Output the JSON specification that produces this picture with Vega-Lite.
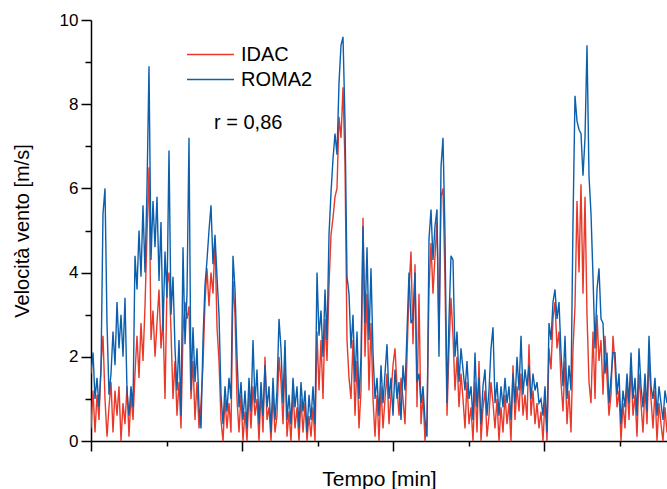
{
  "$schema": "https://vega.github.io/schema/vega-lite/v6.json",
  "width": 576,
  "height": 421,
  "autosize": {"type": "none"},
  "padding": {"left": 91, "top": 20, "right": 0, "bottom": 48},
  "background": "white",
  "config": {"view": {"stroke": null}, "font": "Liberation Sans"},
  "data": {"values": [
    {"t":0,"IDAC":0.3,"ROMA2":1.6},{"t":2,"IDAC":1.2,"ROMA2":2.1},{"t":4,"IDAC":0.2,"ROMA2":1.0},{"t":6,"IDAC":1.1,"ROMA2":1.5},{"t":8,"IDAC":0.5,"ROMA2":0.8},
    {"t":10,"IDAC":1.8,"ROMA2":1.7},{"t":12,"IDAC":2.5,"ROMA2":5.4},{"t":14,"IDAC":1.0,"ROMA2":6.0},{"t":16,"IDAC":0.1,"ROMA2":2.8},{"t":18,"IDAC":0.8,"ROMA2":1.1},
    {"t":20,"IDAC":1.4,"ROMA2":1.6},{"t":22,"IDAC":0.2,"ROMA2":2.6},{"t":24,"IDAC":1.2,"ROMA2":1.8},{"t":26,"IDAC":0.6,"ROMA2":3.3},{"t":28,"IDAC":1.3,"ROMA2":2.2},
    {"t":30,"IDAC":0.0,"ROMA2":3.0},{"t":32,"IDAC":0.9,"ROMA2":2.0},{"t":34,"IDAC":0.4,"ROMA2":3.4},{"t":36,"IDAC":1.3,"ROMA2":1.2},{"t":38,"IDAC":0.1,"ROMA2":0.6},
    {"t":40,"IDAC":1.1,"ROMA2":1.3},{"t":42,"IDAC":0.5,"ROMA2":0.8},{"t":44,"IDAC":1.6,"ROMA2":4.4},{"t":46,"IDAC":2.5,"ROMA2":3.6},{"t":48,"IDAC":1.5,"ROMA2":5.0},
    {"t":50,"IDAC":2.8,"ROMA2":3.9},{"t":52,"IDAC":1.9,"ROMA2":5.6},{"t":54,"IDAC":3.2,"ROMA2":4.0},{"t":56,"IDAC":4.9,"ROMA2":6.0},{"t":58,"IDAC":6.5,"ROMA2":8.9},
    {"t":60,"IDAC":2.4,"ROMA2":4.3},{"t":62,"IDAC":3.1,"ROMA2":5.7},{"t":64,"IDAC":2.0,"ROMA2":4.6},{"t":66,"IDAC":2.8,"ROMA2":5.8},{"t":68,"IDAC":3.6,"ROMA2":3.8},
    {"t":70,"IDAC":2.2,"ROMA2":5.2},{"t":72,"IDAC":2.9,"ROMA2":2.6},{"t":74,"IDAC":1.0,"ROMA2":4.5},{"t":76,"IDAC":3.7,"ROMA2":3.4},{"t":78,"IDAC":4.0,"ROMA2":6.9},
    {"t":80,"IDAC":2.6,"ROMA2":3.0},{"t":82,"IDAC":1.0,"ROMA2":3.9},{"t":84,"IDAC":1.9,"ROMA2":2.2},{"t":86,"IDAC":0.6,"ROMA2":1.2},{"t":88,"IDAC":1.4,"ROMA2":2.4},
    {"t":90,"IDAC":0.3,"ROMA2":0.6},{"t":92,"IDAC":2.6,"ROMA2":4.6},{"t":94,"IDAC":3.3,"ROMA2":2.3},{"t":96,"IDAC":2.9,"ROMA2":3.5},{"t":98,"IDAC":3.2,"ROMA2":7.2},
    {"t":100,"IDAC":1.0,"ROMA2":1.2},{"t":102,"IDAC":1.9,"ROMA2":2.7},{"t":104,"IDAC":0.5,"ROMA2":1.4},{"t":106,"IDAC":1.4,"ROMA2":2.2},{"t":108,"IDAC":0.3,"ROMA2":0.8},
    {"t":110,"IDAC":0.9,"ROMA2":0.3},{"t":112,"IDAC":1.8,"ROMA2":2.4},{"t":114,"IDAC":3.3,"ROMA2":3.7},{"t":116,"IDAC":4.1,"ROMA2":4.3},{"t":118,"IDAC":3.2,"ROMA2":5.0},
    {"t":120,"IDAC":4.0,"ROMA2":5.6},{"t":122,"IDAC":3.5,"ROMA2":4.2},{"t":124,"IDAC":4.8,"ROMA2":4.9},{"t":126,"IDAC":2.7,"ROMA2":3.9},{"t":128,"IDAC":1.9,"ROMA2":3.0},
    {"t":130,"IDAC":0.5,"ROMA2":1.1},{"t":132,"IDAC":0.0,"ROMA2":0.4},{"t":134,"IDAC":1.0,"ROMA2":1.3},{"t":136,"IDAC":0.3,"ROMA2":0.7},{"t":138,"IDAC":0.9,"ROMA2":1.5},
    {"t":140,"IDAC":0.2,"ROMA2":1.0},{"t":142,"IDAC":3.8,"ROMA2":4.4},{"t":144,"IDAC":3.0,"ROMA2":3.6},{"t":146,"IDAC":1.0,"ROMA2":2.0},{"t":148,"IDAC":0.2,"ROMA2":0.8},
    {"t":150,"IDAC":1.1,"ROMA2":1.4},{"t":152,"IDAC":0.0,"ROMA2":0.5},{"t":154,"IDAC":0.7,"ROMA2":1.2},{"t":156,"IDAC":0.0,"ROMA2":0.3},{"t":158,"IDAC":1.2,"ROMA2":1.5},
    {"t":160,"IDAC":0.3,"ROMA2":0.7},{"t":162,"IDAC":1.3,"ROMA2":2.4},{"t":164,"IDAC":0.6,"ROMA2":0.9},{"t":166,"IDAC":1.0,"ROMA2":1.7},{"t":168,"IDAC":0.0,"ROMA2":0.4},
    {"t":170,"IDAC":1.2,"ROMA2":1.4},{"t":172,"IDAC":0.2,"ROMA2":0.6},{"t":174,"IDAC":2.0,"ROMA2":1.8},{"t":176,"IDAC":0.5,"ROMA2":0.8},{"t":178,"IDAC":0.8,"ROMA2":1.3},
    {"t":180,"IDAC":0.0,"ROMA2":0.2},{"t":182,"IDAC":1.1,"ROMA2":1.5},{"t":184,"IDAC":0.2,"ROMA2":0.5},{"t":186,"IDAC":0.6,"ROMA2":1.2},{"t":188,"IDAC":2.0,"ROMA2":2.9},
    {"t":190,"IDAC":1.4,"ROMA2":2.2},{"t":192,"IDAC":0.4,"ROMA2":0.9},{"t":194,"IDAC":1.9,"ROMA2":2.4},{"t":196,"IDAC":0.1,"ROMA2":0.5},{"t":198,"IDAC":0.7,"ROMA2":1.1},
    {"t":200,"IDAC":0.0,"ROMA2":0.4},{"t":202,"IDAC":1.2,"ROMA2":1.5},{"t":204,"IDAC":0.3,"ROMA2":0.8},{"t":206,"IDAC":0.8,"ROMA2":1.3},{"t":208,"IDAC":0.0,"ROMA2":0.3},
    {"t":210,"IDAC":1.0,"ROMA2":1.4},{"t":212,"IDAC":0.2,"ROMA2":0.7},{"t":214,"IDAC":0.9,"ROMA2":1.2},{"t":216,"IDAC":0.0,"ROMA2":0.2},{"t":218,"IDAC":0.6,"ROMA2":1.1},
    {"t":220,"IDAC":0.1,"ROMA2":0.5},{"t":222,"IDAC":0.8,"ROMA2":1.3},{"t":224,"IDAC":0.0,"ROMA2":0.4},{"t":226,"IDAC":2.6,"ROMA2":4.0},{"t":228,"IDAC":1.2,"ROMA2":2.5},
    {"t":230,"IDAC":2.4,"ROMA2":3.1},{"t":232,"IDAC":1.0,"ROMA2":2.0},{"t":234,"IDAC":2.9,"ROMA2":3.6},{"t":236,"IDAC":1.9,"ROMA2":2.4},{"t":238,"IDAC":3.7,"ROMA2":4.9},
    {"t":240,"IDAC":4.9,"ROMA2":5.9},{"t":242,"IDAC":5.3,"ROMA2":6.7},{"t":244,"IDAC":5.8,"ROMA2":7.3},{"t":246,"IDAC":6.0,"ROMA2":6.8},{"t":248,"IDAC":7.7,"ROMA2":8.5},
    {"t":250,"IDAC":7.2,"ROMA2":9.4},{"t":252,"IDAC":8.4,"ROMA2":9.6},{"t":254,"IDAC":6.6,"ROMA2":7.6},{"t":256,"IDAC":2.4,"ROMA2":3.9},{"t":258,"IDAC":1.5,"ROMA2":3.5},
    {"t":260,"IDAC":1.0,"ROMA2":2.2},{"t":262,"IDAC":2.4,"ROMA2":3.0},{"t":264,"IDAC":0.6,"ROMA2":1.4},{"t":266,"IDAC":1.9,"ROMA2":2.6},{"t":268,"IDAC":0.3,"ROMA2":1.0},
    {"t":270,"IDAC":1.2,"ROMA2":2.0},{"t":272,"IDAC":5.3,"ROMA2":5.1},{"t":274,"IDAC":2.0,"ROMA2":2.8},{"t":276,"IDAC":3.5,"ROMA2":4.6},{"t":278,"IDAC":1.2,"ROMA2":2.4},
    {"t":280,"IDAC":2.8,"ROMA2":4.1},{"t":282,"IDAC":1.0,"ROMA2":2.1},{"t":284,"IDAC":0.1,"ROMA2":1.0},{"t":286,"IDAC":1.1,"ROMA2":1.5},{"t":288,"IDAC":0.0,"ROMA2":0.6},
    {"t":290,"IDAC":1.3,"ROMA2":1.8},{"t":292,"IDAC":0.3,"ROMA2":0.9},{"t":294,"IDAC":1.0,"ROMA2":1.6},{"t":296,"IDAC":1.6,"ROMA2":2.3},{"t":298,"IDAC":0.4,"ROMA2":1.0},
    {"t":300,"IDAC":1.1,"ROMA2":1.5},{"t":302,"IDAC":1.8,"ROMA2":0.6},{"t":304,"IDAC":2.2,"ROMA2":1.7},{"t":306,"IDAC":1.3,"ROMA2":1.0},{"t":308,"IDAC":0.6,"ROMA2":1.4},
    {"t":310,"IDAC":1.5,"ROMA2":0.5},{"t":312,"IDAC":1.0,"ROMA2":1.8},{"t":314,"IDAC":0.4,"ROMA2":1.2},{"t":316,"IDAC":2.0,"ROMA2":2.6},{"t":318,"IDAC":3.6,"ROMA2":4.0},
    {"t":320,"IDAC":4.5,"ROMA2":2.8},{"t":322,"IDAC":2.3,"ROMA2":2.9},{"t":324,"IDAC":4.2,"ROMA2":4.0},{"t":326,"IDAC":0.8,"ROMA2":1.4},{"t":328,"IDAC":3.5,"ROMA2":1.6},
    {"t":330,"IDAC":0.4,"ROMA2":0.9},{"t":332,"IDAC":1.1,"ROMA2":1.3},{"t":334,"IDAC":0.0,"ROMA2":0.5},{"t":336,"IDAC":0.5,"ROMA2":0.1},{"t":338,"IDAC":3.6,"ROMA2":4.8},
    {"t":340,"IDAC":4.7,"ROMA2":5.5},{"t":342,"IDAC":3.5,"ROMA2":4.3},{"t":344,"IDAC":4.4,"ROMA2":5.1},{"t":346,"IDAC":5.2,"ROMA2":5.5},{"t":348,"IDAC":2.4,"ROMA2":2.0},
    {"t":350,"IDAC":5.8,"ROMA2":6.5},{"t":352,"IDAC":6.0,"ROMA2":7.2},{"t":354,"IDAC":3.8,"ROMA2":4.9},{"t":356,"IDAC":0.6,"ROMA2":0.9},{"t":358,"IDAC":2.2,"ROMA2":2.9},
    {"t":360,"IDAC":3.4,"ROMA2":4.4},{"t":362,"IDAC":2.5,"ROMA2":4.3},{"t":364,"IDAC":1.2,"ROMA2":2.0},{"t":366,"IDAC":2.0,"ROMA2":2.6},{"t":368,"IDAC":0.8,"ROMA2":1.4},
    {"t":370,"IDAC":1.6,"ROMA2":2.2},{"t":372,"IDAC":1.0,"ROMA2":1.7},{"t":374,"IDAC":0.3,"ROMA2":1.2},{"t":376,"IDAC":1.4,"ROMA2":1.9},{"t":378,"IDAC":0.4,"ROMA2":1.0},
    {"t":380,"IDAC":0.8,"ROMA2":1.3},{"t":382,"IDAC":0.0,"ROMA2":0.5},{"t":384,"IDAC":1.4,"ROMA2":2.1},{"t":386,"IDAC":0.2,"ROMA2":0.8},{"t":388,"IDAC":1.9,"ROMA2":1.5},
    {"t":390,"IDAC":0.0,"ROMA2":0.4},{"t":392,"IDAC":0.8,"ROMA2":1.3},{"t":394,"IDAC":1.2,"ROMA2":1.7},{"t":396,"IDAC":0.1,"ROMA2":0.6},{"t":398,"IDAC":0.6,"ROMA2":1.2},
    {"t":400,"IDAC":1.4,"ROMA2":2.2},{"t":402,"IDAC":0.9,"ROMA2":2.7},{"t":404,"IDAC":0.3,"ROMA2":0.9},{"t":406,"IDAC":1.0,"ROMA2":1.4},{"t":408,"IDAC":0.0,"ROMA2":0.6},
    {"t":410,"IDAC":0.8,"ROMA2":1.3},{"t":412,"IDAC":0.2,"ROMA2":0.8},{"t":414,"IDAC":1.1,"ROMA2":1.5},{"t":416,"IDAC":0.4,"ROMA2":0.9},{"t":418,"IDAC":0.9,"ROMA2":1.3},
    {"t":420,"IDAC":0.0,"ROMA2":0.5},{"t":422,"IDAC":1.8,"ROMA2":1.6},{"t":424,"IDAC":0.5,"ROMA2":0.9},{"t":426,"IDAC":1.3,"ROMA2":2.0},{"t":428,"IDAC":0.7,"ROMA2":1.2},
    {"t":430,"IDAC":1.6,"ROMA2":2.5},{"t":432,"IDAC":0.6,"ROMA2":1.1},{"t":434,"IDAC":1.1,"ROMA2":1.7},{"t":436,"IDAC":0.5,"ROMA2":1.3},{"t":438,"IDAC":2.3,"ROMA2":1.8},
    {"t":440,"IDAC":0.6,"ROMA2":1.0},{"t":442,"IDAC":1.2,"ROMA2":1.6},{"t":444,"IDAC":0.4,"ROMA2":1.2},{"t":446,"IDAC":0.9,"ROMA2":1.4},{"t":448,"IDAC":0.3,"ROMA2":0.9},
    {"t":450,"IDAC":0.7,"ROMA2":1.0},{"t":452,"IDAC":0.0,"ROMA2":0.6},{"t":454,"IDAC":1.0,"ROMA2":1.3},{"t":456,"IDAC":0.0,"ROMA2":0.2},{"t":458,"IDAC":2.2,"ROMA2":2.8},
    {"t":460,"IDAC":1.7,"ROMA2":2.4},{"t":462,"IDAC":2.9,"ROMA2":3.3},{"t":464,"IDAC":3.3,"ROMA2":3.6},{"t":466,"IDAC":2.2,"ROMA2":2.9},{"t":468,"IDAC":2.6,"ROMA2":3.3},
    {"t":470,"IDAC":1.4,"ROMA2":2.1},{"t":472,"IDAC":0.7,"ROMA2":1.3},{"t":474,"IDAC":1.9,"ROMA2":2.5},{"t":476,"IDAC":0.4,"ROMA2":1.0},{"t":478,"IDAC":1.2,"ROMA2":1.8},
    {"t":480,"IDAC":0.2,"ROMA2":1.2},{"t":482,"IDAC":2.2,"ROMA2":5.2},{"t":484,"IDAC":3.2,"ROMA2":8.2},{"t":486,"IDAC":5.7,"ROMA2":7.6},{"t":488,"IDAC":4.0,"ROMA2":7.4},
    {"t":490,"IDAC":6.1,"ROMA2":7.3},{"t":492,"IDAC":3.5,"ROMA2":6.3},{"t":494,"IDAC":5.8,"ROMA2":7.2},{"t":496,"IDAC":3.0,"ROMA2":9.4},{"t":498,"IDAC":1.4,"ROMA2":6.3},
    {"t":500,"IDAC":0.9,"ROMA2":5.4},{"t":502,"IDAC":2.6,"ROMA2":3.9},{"t":504,"IDAC":1.0,"ROMA2":2.2},{"t":506,"IDAC":3.0,"ROMA2":3.6},{"t":508,"IDAC":1.9,"ROMA2":4.1},
    {"t":510,"IDAC":2.4,"ROMA2":2.9},{"t":512,"IDAC":1.1,"ROMA2":2.8},{"t":514,"IDAC":2.5,"ROMA2":1.6},{"t":516,"IDAC":1.5,"ROMA2":2.1},{"t":518,"IDAC":0.6,"ROMA2":0.9},
    {"t":520,"IDAC":1.1,"ROMA2":1.5},{"t":522,"IDAC":2.5,"ROMA2":2.1},{"t":524,"IDAC":1.8,"ROMA2":2.1},{"t":526,"IDAC":0.8,"ROMA2":1.1},{"t":528,"IDAC":1.2,"ROMA2":1.6},
    {"t":530,"IDAC":0.0,"ROMA2":0.4},{"t":532,"IDAC":0.9,"ROMA2":1.2},{"t":534,"IDAC":0.3,"ROMA2":0.8},{"t":536,"IDAC":1.4,"ROMA2":1.6},{"t":538,"IDAC":0.5,"ROMA2":0.9},
    {"t":540,"IDAC":1.8,"ROMA2":2.1},{"t":542,"IDAC":0.6,"ROMA2":1.0},{"t":544,"IDAC":1.1,"ROMA2":1.5},{"t":546,"IDAC":0.1,"ROMA2":0.6},{"t":548,"IDAC":1.6,"ROMA2":2.2},
    {"t":550,"IDAC":0.9,"ROMA2":1.3},{"t":552,"IDAC":0.2,"ROMA2":0.8},{"t":554,"IDAC":1.3,"ROMA2":1.6},{"t":556,"IDAC":0.4,"ROMA2":0.7},{"t":558,"IDAC":2.0,"ROMA2":2.5},
    {"t":560,"IDAC":1.0,"ROMA2":1.3},{"t":562,"IDAC":0.3,"ROMA2":1.0},{"t":564,"IDAC":1.2,"ROMA2":1.5},{"t":566,"IDAC":0.0,"ROMA2":0.6},{"t":568,"IDAC":0.9,"ROMA2":1.3},
    {"t":570,"IDAC":0.4,"ROMA2":0.9},{"t":572,"IDAC":0.0,"ROMA2":0.5},{"t":574,"IDAC":0.8,"ROMA2":1.2},{"t":576,"IDAC":0.2,"ROMA2":0.9}
  ]},
  "layer": [
    {
      "transform": [{"fold": ["IDAC", "ROMA2"], "as": ["serie", "v"]}],
      "mark": {"type": "line", "strokeWidth": 1.4, "clip": true},
      "encoding": {
        "x": {"field": "t", "type": "quantitative",
              "scale": {"domain": [0, 576], "nice": false, "zero": false},
              "axis": {"values": [0, 151, 302, 453], "labels": false, "grid": false,
                       "tickSize": 10, "tickWidth": 1.5, "tickColor": "black",
                       "domainWidth": 1.5, "domainColor": "black",
                       "title": "Tempo [min]", "titleFontSize": 21, "titleFont": "Liberation Sans",
                       "titleFontWeight": "normal", "titleColor": "black", "titlePadding": 17}},
        "y": {"field": "v", "type": "quantitative",
              "scale": {"domain": [0, 10], "nice": false},
              "axis": {"values": [0, 2, 4, 6, 8, 10], "grid": false,
                       "tickSize": 10, "tickWidth": 1.5, "tickColor": "black",
                       "domainWidth": 1.5, "domainColor": "black",
                       "labelFontSize": 17, "labelFont": "Liberation Sans", "labelColor": "black", "labelPadding": 3,
                       "title": "Velocità vento [m/s]", "titleFontSize": 20, "titleFont": "Liberation Sans",
                       "titleFontWeight": "normal", "titleColor": "black", "titlePadding": 27}},
        "color": {"field": "serie", "type": "nominal",
                  "scale": {"domain": ["IDAC", "ROMA2"], "range": ["#e8392b", "#0b5fad"]},
                  "legend": {"orient": "none", "legendX": 107, "legendY": 22, "title": null,
                             "symbolType": "M-2,0L2,0", "symbolSize": 552, "symbolStrokeWidth": 1.5,
                             "labelFontSize": 20, "labelFont": "Liberation Sans", "labelColor": "black",
                             "labelOffset": 18, "rowPadding": 2}}
      }
    },
    {
      "data": {"values": [{}]},
      "mark": {"type": "text", "text": "r = 0,86", "fontSize": 20, "font": "Liberation Sans",
               "align": "left", "baseline": "middle", "color": "black"},
      "encoding": {
        "x": {"datum": 123, "type": "quantitative",
              "axis": {"orient": "bottom", "values": [75.5, 226.5, 377.5, 528.5], "labels": false, "domain": false,
                       "grid": false, "tickSize": 5, "tickWidth": 1.5, "tickColor": "black", "title": null}},
        "y": {"datum": 7.55, "type": "quantitative",
              "axis": {"orient": "left", "values": [1, 3, 5, 7, 9], "labels": false, "domain": false,
                       "grid": false, "tickSize": 6, "tickWidth": 1.5, "tickColor": "black", "title": null}}
      }
    }
  ],
  "resolve": {"axis": {"x": "independent", "y": "independent"}}
}
